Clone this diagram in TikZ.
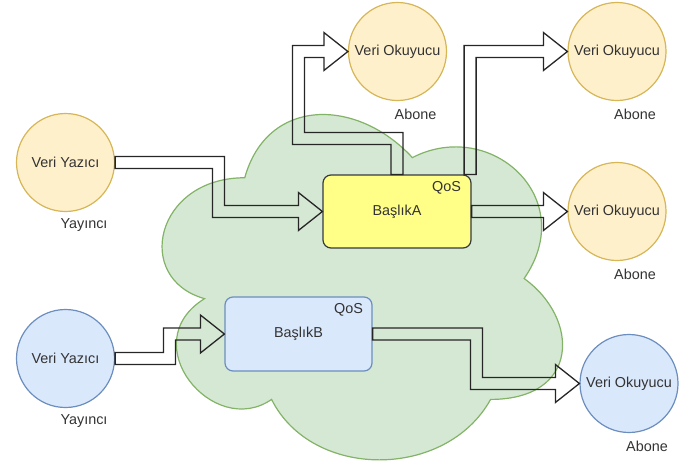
\documentclass[tikz,border=0pt]{standalone}
\usepackage{fontspec}
\setmainfont{Liberation Sans}
\usetikzlibrary{calc}
\definecolor{txt}{HTML}{333333}
\definecolor{yelfill}{HTML}{FFF0CC}
\definecolor{yelline}{HTML}{D6B656}
\definecolor{bluefill}{HTML}{DAE8FC}
\definecolor{blueline}{HTML}{6C8EBF}
\definecolor{topicfill}{HTML}{FFFF88}
\definecolor{topicline}{HTML}{36393D}
\definecolor{cloudfill}{HTML}{D5E8D4}
\definecolor{cloudline}{HTML}{82B366}
% head of a wide hollow arrow, pointing right
\newcommand{\flexhead}{-- ++(0,-13) -- ++(24,19) -- ++(-24,19) -- ++(0,-13)}

\begin{document}
\begin{tikzpicture}[x=1pt,y=-1pt,line join=miter,
  every node/.style={text=txt,font=\fontsize{14.4}{16}\selectfont},
  yelnode/.style={circle,draw=yelline,fill=yelfill,line width=1.2pt,minimum size=98pt,inner sep=0pt},
  bluenode/.style={circle,draw=blueline,fill=bluefill,line width=1.2pt,minimum size=98pt,inner sep=0pt},
  topicA/.style={draw=topicline,fill=topicfill,line width=1.2pt,rounded corners=8pt,minimum width=148pt,minimum height=73pt},
  topicB/.style={draw=blueline,fill=bluefill,line width=1.2pt,rounded corners=8pt,minimum width=147pt,minimum height=74pt},
  role/.style={inner sep=1pt},
  flex/.style={draw=black!85,line width=1.3pt}]
\useasboundingbox (0,0) rectangle (692,466);

% cloud
\begin{scope}[shift={(133,77)},x=447pt,y=-403pt]
\draw[fill=cloudfill,draw=cloudline,line width=1.2pt] (0.25,0.25)
  .. controls (0.05,0.25) and (0,0.5) .. (0.16,0.55)
  .. controls (0,0.66) and (0.18,0.9) .. (0.31,0.8)
  .. controls (0.4,1) and (0.7,1) .. (0.8,0.8)
  .. controls (1,0.8) and (1,0.6) .. (0.875,0.5)
  .. controls (1,0.3) and (0.8,0.1) .. (0.625,0.2)
  .. controls (0.5,0.05) and (0.3,0.05) .. (0.25,0.25) -- cycle;
\end{scope}

% publishers
\node[yelnode] (pubA) at (65.5,162.5) {Veri Yazıcı};
\node[bluenode] (pubB) at (65.5,358.5) {Veri Yazıcı};
\node[role] (pubAlbl) at ($(pubA.south)+(18.5,13)$) {Yayıncı};
\node[role] (pubBlbl) at ($(pubB.south)+(18.5,13)$) {Yayıncı};

% topics
\node[topicA] (topicA) at (397,211.5) {BaşlıkA};
\node[topicB] (topicB) at (298.5,334) {BaşlıkB};
\node[role] (qosA) at ($(topicA.north east)+(-25,13)$) {QoS};
\node[role] (qosB) at ($(topicB.north east)+(-24,13)$) {QoS};

% subscribers
\node[yelnode] (subA1) at (397.5,51.5) {Veri Okuyucu};
\node[yelnode] (subA2) at (617,51.5) {Veri Okuyucu};
\node[yelnode] (subA3) at (617,211.5) {Veri Okuyucu};
\node[bluenode] (subB) at (629,383.5) {Veri Okuyucu};
\node[role] (subA1lbl) at ($(subA1.south)+(18,13.5)$) {Abone};
\node[role] (subA2lbl) at ($(subA2.south)+(18,13.5)$) {Abone};
\node[role] (subA3lbl) at ($(subA3.south)+(18,13.5)$) {Abone};
\node[role] (subBlbl) at ($(subB.south)+(18,13.5)$) {Abone};

% hollow arrows
\draw[flex] ($(pubA.east)+(0,-6)$) -| (224.5,205.5) -- ($(topicA.west)+(-24,-6)$) \flexhead
  -| (212.5,168.5) -- ($(pubA.east)+(0,6)$) -- cycle;
\draw[flex] ($(topicA.north)+(-6,0)$) |- (292.5,144.5) |- ($(subA1.west)+(-24,-6)$) \flexhead
  -| (304.5,132.5) -| ($(topicA.north)+(6,0)$) -- cycle;
\draw[flex] ($(topicA.north east)+(-7.5,0)$) |- ($(subA2.west)+(-24,-6)$) \flexhead
  -| ($(topicA.north east)+(4.5,0)$) -- cycle;
\draw[flex] ($(topicA.east)+(0,-6)$) -- ($(subA3.west)+(-24,-6)$) \flexhead
  -- ($(topicA.east)+(0,6)$) -- cycle;
\draw[flex] ($(pubB.east)+(0,-6)$) -| (163.5,328) -- ($(topicB.west)+(-24,-6)$) \flexhead
  -| (175.5,364.5) -- ($(pubB.east)+(0,6)$) -- cycle;
\draw[flex] ($(topicB.east)+(0,-6)$) -| (482.5,377.5) -- ($(subB.west)+(-24,-6)$) \flexhead
  -| (470.5,340) -- ($(topicB.east)+(0,6)$) -- cycle;
\end{tikzpicture}
\end{document}
